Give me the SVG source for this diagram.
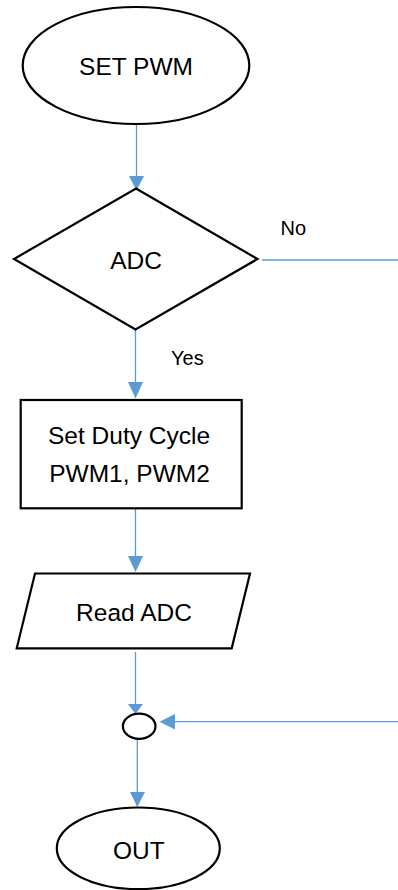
<svg xmlns="http://www.w3.org/2000/svg" width="398" height="890" viewBox="0 0 398 890">
<style>
.shape{fill:#fff;stroke:#000;stroke-width:2.2}
.conn{fill:none;stroke:#5B9BD5;stroke-width:1.3}
.head{fill:#5B9BD5}
.t{font-family:"Liberation Sans",Arial,sans-serif;font-size:24.5px;fill:#000;text-anchor:middle}
.lbl{font-family:"Liberation Sans",Arial,sans-serif;font-size:20px;fill:#000}
</style>
<rect width="398" height="890" fill="#fff"/>
<g id="connectors">
<line class="conn" x1="136.5" y1="124" x2="136.5" y2="177"/>
<path class="head" d="M129,176 L144,176 L136.5,190.5 Z"/>
<line class="conn" x1="135.5" y1="330" x2="135.5" y2="383"/>
<path class="head" d="M128,382 L143,382 L135.5,398.5 Z"/>
<line class="conn" x1="135.5" y1="509" x2="135.5" y2="557"/>
<path class="head" d="M128,556 L143,556 L135.5,572 Z"/>
<line class="conn" x1="135.5" y1="652" x2="135.5" y2="705"/>
<path class="head" d="M128,704 L143,704 L135.5,714 Z"/>
<line class="conn" x1="262" y1="260" x2="398" y2="260"/>
<line class="conn" x1="398" y1="721.7" x2="174" y2="721.7"/>
<path class="head" d="M175,714 L175,729.5 L159.5,721.7 Z"/>
<line class="conn" x1="137.3" y1="739" x2="137.3" y2="793"/>
<path class="head" d="M130,792 L145,792 L137.3,807 Z"/>
<text class="lbl" x="280.5" y="235">No</text>
<text class="lbl" x="171" y="365">Yes</text>
</g>
<g id="start">
<ellipse class="shape" cx="136" cy="65.5" rx="113.3" ry="58.5"/>
<text class="t" x="136" y="75">SET PWM</text>
</g>
<g id="decision">
<polygon class="shape" points="136,188.5 257.5,259 135.5,329.5 14,259"/>
<text class="t" x="136" y="268.5">ADC</text>
</g>
<g id="process">
<rect class="shape" x="20.7" y="400" width="221" height="108.3"/>
<text class="t" x="129" y="443.5">Set Duty Cycle</text>
<text class="t" x="129.5" y="482">PWM1, PWM2</text>
</g>
<g id="io">
<polygon class="shape" points="35,573.5 250,573.5 231.7,648.3 16.7,648.3"/>
<text class="t" x="134" y="621">Read ADC</text>
</g>
<g id="junction">
<ellipse class="shape" cx="139.2" cy="726.2" rx="16.3" ry="12.6"/>
</g>
<g id="end">
<ellipse class="shape" cx="138.3" cy="848.3" rx="81.5" ry="40.8"/>
<text class="t" x="138.8" y="859">OUT</text>
</g>
</svg>
